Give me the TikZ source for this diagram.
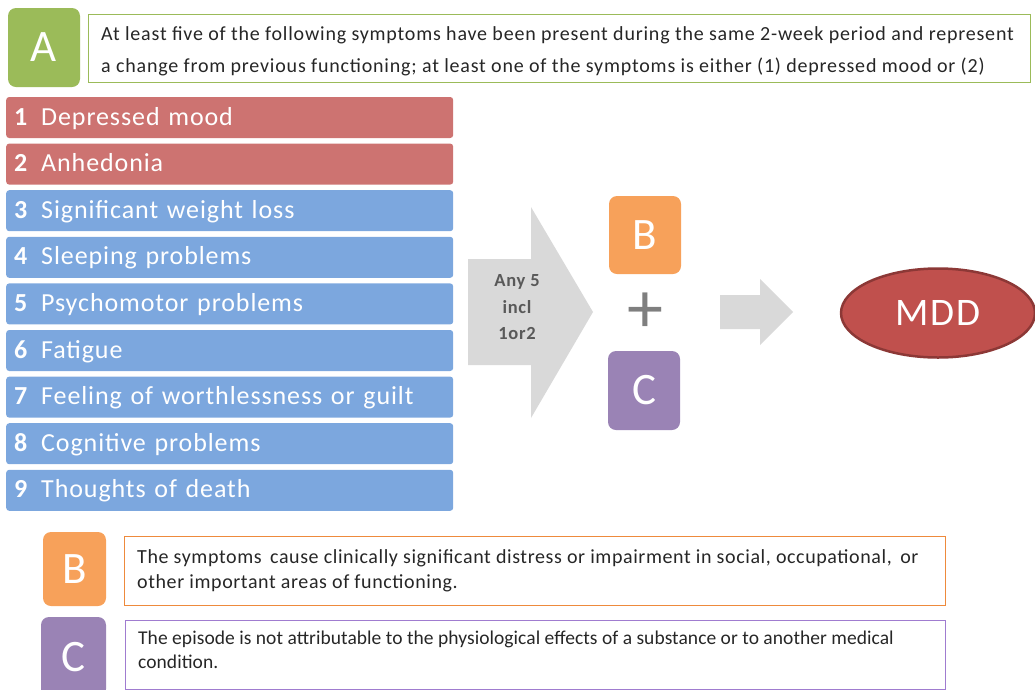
\documentclass[tikz,border=0pt]{standalone}
\usepackage{fontspec}
\usetikzlibrary{shapes.geometric}
\setmainfont{Carlito}
\newfontfamily\symfont[LetterSpace=3.5]{Carlito}
\newfontfamily\afont[LetterSpace=4]{Carlito}
\newfontfamily\bfontt[LetterSpace=3]{Carlito}
\newfontfamily\cfontt[LetterSpace=0.3]{Carlito}
\newfontfamily\mddfont[LetterSpace=5]{Carlito}
\definecolor{agreen}{HTML}{9BBB59}
\definecolor{barared}{HTML}{CD7371}
\definecolor{barblue}{HTML}{7CA7DE}
\definecolor{arrgray}{HTML}{D9D9D9}
\definecolor{txtgray}{HTML}{595959}
\definecolor{plusgray}{HTML}{7F7F7F}
\definecolor{borange}{HTML}{F7A15A}
\definecolor{borangeline}{HTML}{EE8A3C}
\definecolor{cpurple}{HTML}{9A83B5}
\definecolor{cpurpleline}{HTML}{A07CD0}
\definecolor{mddred}{HTML}{C0504D}
\definecolor{mddline}{HTML}{8C3836}
\definecolor{bodytxt}{HTML}{262626}
\tikzset{
  letterbox/.style={rounded corners=8pt, draw=none, text=white, inner sep=0pt, font=\fontsize{45}{45}\selectfont},
  symbar/.style={rounded corners=3pt, minimum width=447pt, minimum height=41pt, anchor=west, text=white,
     inner xsep=8pt, text width=431pt, align=left, text height=18pt, text depth=3pt,
     font=\symfont\fontsize{26}{26}\selectfont},
  descbox/.style={draw, line width=1.2pt, anchor=north west, inner sep=0pt},
  desctext/.style={anchor=base west, text=bodytxt, inner sep=0pt},
}
\newcommand{\symnum}[1]{\makebox[27pt][l]{\textbf{#1}}}
\begin{document}
\begin{tikzpicture}[x=1pt,y=-1pt]
\useasboundingbox (0,0) rectangle (1035,689);
% ---- A section
\node[letterbox, fill=agreen, minimum width=72pt, minimum height=79pt] (A) at (44,47.5) {A};
\node[descbox, draw=agreen, minimum width=942pt, minimum height=68pt] (Abox) at (88,14) {};
\node[desctext, font=\afont\fontsize{20}{20}\selectfont] (Atext1) at (101,40.5) {At least five of the following symptoms have been present during the same 2-week period and represent};
\node[desctext, font=\afont\fontsize{20}{20}\selectfont] (Atext2) at (101,72.5) {a change from previous functioning; at least one of the symptoms is either (1) depressed mood or (2)};
% ---- symptom bars
\node[symbar, fill=barared] (s1) at (6,117.5) {\symnum{1}Depressed mood};
\node[symbar, fill=barared] (s2) at (6,164.1) {\symnum{2}Anhedonia};
\node[symbar, fill=barblue] (s3) at (6,210.7) {\symnum{3}Significant weight loss};
\node[symbar, fill=barblue] (s4) at (6,257.3) {\symnum{4}Sleeping problems};
\node[symbar, fill=barblue] (s5) at (6,303.9) {\symnum{5}Psychomotor problems};
\node[symbar, fill=barblue] (s6) at (6,350.5) {\symnum{6}Fatigue};
\node[symbar, fill=barblue] (s7) at (6,397.1) {\symnum{7}Feeling of worthlessness or guilt};
\node[symbar, fill=barblue] (s8) at (6,443.7) {\symnum{8}Cognitive problems};
\node[symbar, fill=barblue] (s9) at (6,490.3) {\symnum{9}Thoughts of death};
% ---- big arrow
\fill[arrgray] (468,259) -- (531,259) -- (531,207) -- (593,312) -- (531,418) -- (531,365) -- (468,365) -- cycle;
\node[text=txtgray, align=center, font=\afont\bfseries\fontsize{18.5}{26.5}\selectfont] (any) at (517,307.5) {Any 5\\incl\\1or2};
% ---- B + C
\node[letterbox, fill=borange, minimum width=72pt, minimum height=78pt] (Bm) at (645,235) {B};
\node[text=plusgray, inner sep=0pt, font=\fontsize{72}{72}\selectfont] (plus) at (645,312.5) {+};
\node[letterbox, fill=cpurple, minimum width=72pt, minimum height=79pt] (Cm) at (644,390.5) {C};
% ---- small arrow
\fill[arrgray] (720,295) -- (760,295) -- (760,279) -- (793,312) -- (760,345) -- (760,329) -- (720,329) -- cycle;
% ---- MDD
\node[ellipse, fill=mddred, draw=mddline, line width=2.5pt, minimum width=194pt, minimum height=89pt,
  text=white, font=\mddfont\fontsize{39}{39}\selectfont] (MDD) at (938,313) {MDD};
% ---- B section
\node[letterbox, fill=borange, minimum width=63pt, minimum height=74pt] (B) at (74.5,569) {B};
\node[descbox, draw=borangeline, minimum width=821pt, minimum height=69pt] (Bbox) at (124,536) {};
\node[desctext, font=\bfontt\fontsize{20}{20}\selectfont] (Btext1) at (137,563) {The symptoms\, cause clinically significant distress or impairment in social, occupational,\, or};
\node[desctext, font=\bfontt\fontsize{20}{20}\selectfont] (Btext2) at (137,588) {other important areas of functioning.};
% ---- C section
\node[letterbox, fill=cpurple, minimum width=65pt, minimum height=80pt] (C) at (73.5,657) {C};
\node[descbox, draw=cpurpleline, minimum width=820pt, minimum height=69pt] (Cbox) at (125,619.5) {};
\node[desctext, font=\cfontt\fontsize{19.5}{19.5}\selectfont] (Ctext1) at (138,644) {The episode is not attributable to the physiological effects of a substance or to another medical};
\node[desctext, font=\cfontt\fontsize{19.5}{19.5}\selectfont] (Ctext2) at (138,668) {condition.};
\end{tikzpicture}
\end{document}
